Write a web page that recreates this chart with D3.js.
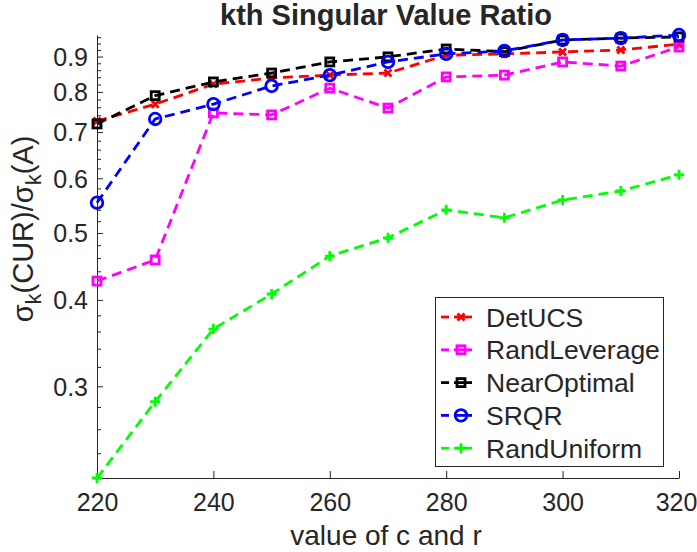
<!DOCTYPE html>
<html>
<head>
<meta charset="utf-8">
<script src="https://cdn.jsdelivr.net/npm/d3@7"></script>
<style>
  html, body { margin: 0; padding: 0; background: #fff; }
  svg text { font-family: "Liberation Sans", Arial, Helvetica, sans-serif; fill: #262626; }
</style>
</head>
<body>
<svg id="chart" width="697" height="552"></svg>
<script>
// Sample sizes (number of columns c and rows r)
const sizes = [220, 230, 240, 250, 260, 270, 280, 290, 300, 310, 320];

// kth singular value ratio sigma_k(CUR) / sigma_k(A) per method
const detUCS       = [0.726, 0.768, 0.821, 0.838, 0.846, 0.852, 0.904, 0.908, 0.914, 0.920, 0.938];
const randLeverage = [0.426, 0.457, 0.746, 0.741, 0.810, 0.758, 0.841, 0.846, 0.884, 0.872, 0.929];
const nearOptimal  = [0.719, 0.790, 0.827, 0.852, 0.884, 0.899, 0.923, 0.915, 0.951, 0.957, 0.961];
const srqr         = [0.553, 0.731, 0.768, 0.816, 0.846, 0.884, 0.908, 0.917, 0.951, 0.957, 0.967];
const randUniform  = [0.221, 0.285, 0.363, 0.408, 0.463, 0.492, 0.540, 0.526, 0.558, 0.575, 0.607];

const seriesNames  = ["DetUCS", "RandLeverage", "NearOptimal", "SRQR", "RandUniform"];
const seriesValues = [detUCS, randLeverage, nearOptimal, srqr, randUniform];
const seriesColors = ["#ff0000", "#ff00ff", "#000000", "#0000ff", "#00ff00"];
const seriesMarkers = ["x", "square", "square", "circle", "plus"];

const xTicks = [220, 240, 260, 280, 300, 320];
const yTicks = [0.3, 0.4, 0.5, 0.6, 0.7, 0.8, 0.9];

const svg = d3.select("#chart");
const plotLeft = 97, plotRight = 679, plotTop = 35, plotBottom = 478;
const axisColor = "#262626";
const lineW = 2.8;

const allVals = seriesValues.flat();
const x = d3.scaleLinear().domain([220, 320]).range([plotLeft, plotRight]);
const y = d3.scaleLog().domain([d3.min(allVals), d3.max(allVals)]).range([plotBottom, plotTop]);

// minor ticks every 0.02 on the log axis
const yMinor = d3.range(22, 97, 2).map(d => d / 100)
  .filter(v => v >= y.domain()[0] - 1e-9 && v <= y.domain()[1] + 1e-9)
  .filter(v => !yTicks.some(t => Math.abs(t - v) < 1e-9));

// Axes: ticks point inward
const xAxis = d3.axisBottom(x).tickValues(xTicks).tickSize(-7).tickSizeOuter(0).tickFormat(d3.format("d"));
const gx = svg.append("g").attr("transform", `translate(0,${plotBottom})`).call(xAxis);
gx.select(".domain").attr("stroke", axisColor);
gx.selectAll(".tick line").attr("stroke", axisColor);
gx.selectAll(".tick text").attr("font-size", 25).attr("dy", 0).attr("y", 33).attr("fill", axisColor)
  .attr("dx", d => d === 320 ? -3 : 0);

const yMinorAxis = d3.axisLeft(y).tickValues(yMinor).tickSize(-4).tickSizeOuter(0).tickFormat("");
const gym = svg.append("g").attr("transform", `translate(${plotLeft},0)`).call(yMinorAxis);
gym.select(".domain").remove();
gym.selectAll(".tick line").attr("stroke", axisColor);

const yAxis = d3.axisLeft(y).tickValues(yTicks).tickSize(-6).tickSizeOuter(0).tickFormat(d3.format(".1f"));
const gy = svg.append("g").attr("transform", `translate(${plotLeft},0)`).call(yAxis);
gy.select(".domain").attr("stroke", axisColor);
gy.selectAll(".tick line").attr("stroke", axisColor);
gy.selectAll(".tick text").attr("font-size", 25).attr("x", -9).attr("dy", "0.36em").attr("fill", axisColor);
gx.attr("font-family", null); gy.attr("font-family", null); gym.attr("font-family", null);

// Marker drawing
function drawMarker(g, type, color, cx, cy) {
  if (type === "x") {
    const s = 3.5;
    g.append("path").attr("d", `M${cx - s},${cy - s}L${cx + s},${cy + s}M${cx - s},${cy + s}L${cx + s},${cy - s}`)
      .attr("stroke", color).attr("stroke-width", lineW).attr("fill", "none");
  } else if (type === "square") {
    const s = 4;
    g.append("rect").attr("x", cx - s).attr("y", cy - s).attr("width", 2 * s).attr("height", 2 * s)
      .attr("stroke", color).attr("stroke-width", lineW).attr("fill", "none");
  } else if (type === "circle") {
    g.append("circle").attr("cx", cx).attr("cy", cy).attr("r", 5.8)
      .attr("stroke", color).attr("stroke-width", lineW).attr("fill", "none");
  } else if (type === "plus") {
    const s = 5;
    g.append("path").attr("d", `M${cx - s},${cy}L${cx + s},${cy}M${cx},${cy - s}L${cx},${cy + s}`)
      .attr("stroke", color).attr("stroke-width", lineW).attr("fill", "none");
  }
}

// Series lines
const line = d3.line().x((d, i) => x(sizes[i])).y(d => y(d));
seriesValues.forEach((vals, k) => {
  const g = svg.append("g");
  g.append("path").datum(vals).attr("d", line)
    .attr("fill", "none").attr("stroke", seriesColors[k]).attr("stroke-width", lineW)
    .attr("stroke-dasharray", "10,6");
  vals.forEach((v, i) => drawMarker(g, seriesMarkers[k], seriesColors[k], x(sizes[i]), y(v)));
});

// Legend
const lg = svg.append("g");
lg.append("rect").attr("x", 435.5).attr("y", 297.5).attr("width", 228).attr("height", 169)
  .attr("fill", "#fff").attr("stroke", axisColor).attr("stroke-width", 1);
seriesNames.forEach((name, k) => {
  const cy = 317 + k * 32.8;
  lg.append("line").attr("x1", 441).attr("x2", 449).attr("y1", cy).attr("y2", cy)
    .attr("stroke", seriesColors[k]).attr("stroke-width", lineW);
  lg.append("line").attr("x1", 454).attr("x2", 472).attr("y1", cy).attr("y2", cy)
    .attr("stroke", seriesColors[k]).attr("stroke-width", lineW);
  drawMarker(lg, seriesMarkers[k], seriesColors[k], 461, cy);
  lg.append("text").attr("x", 486).attr("y", cy + 9.5).attr("font-size", 26.5).attr("fill", "#000").text(name);
});

// Title
svg.append("text").attr("x", 386).attr("y", 25).attr("text-anchor", "middle")
  .attr("font-size", 29).attr("font-weight", "bold").attr("fill", "#000").text("kth Singular Value Ratio");

// X label
svg.append("text").attr("x", 386).attr("y", 545).attr("text-anchor", "middle")
  .attr("font-size", 28).text("value of c and r");

// Y label with subscripts
const yl = svg.append("text").attr("transform", "translate(33,229) rotate(-90)")
  .attr("text-anchor", "middle").attr("font-size", 29);
yl.append("tspan").text("σ");
yl.append("tspan").attr("dy", 8).attr("font-size", 22).text("k");
yl.append("tspan").attr("dy", -8).text("(CUR)/σ");
yl.append("tspan").attr("dy", 8).attr("font-size", 22).text("k");
yl.append("tspan").attr("dy", -8).text("(A)");
</script>
</body>
</html>
